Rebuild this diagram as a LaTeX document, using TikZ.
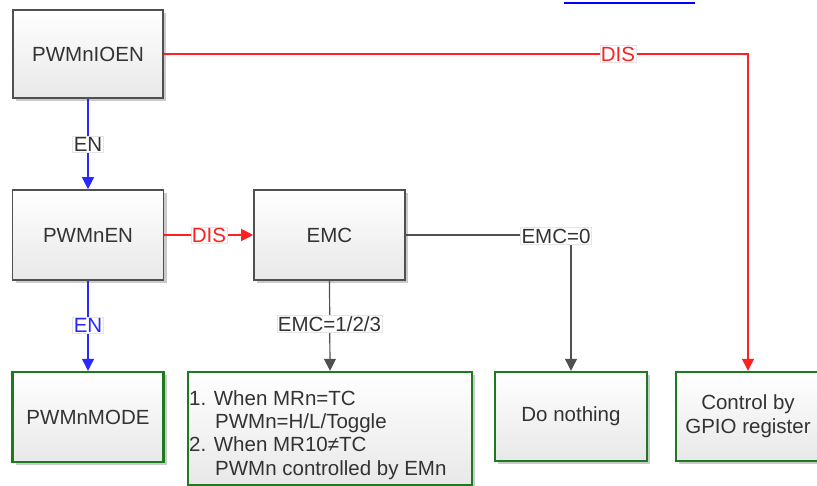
\documentclass[tikz,border=0pt]{standalone}
\usepackage{fontspec}
\setmainfont{Liberation Sans}
\usetikzlibrary{arrows.meta,shadows}
\definecolor{txt}{HTML}{333333}
\definecolor{bord}{HTML}{505050}
\definecolor{grn}{HTML}{1E7A1E}
\definecolor{myred}{HTML}{FF2020}
\definecolor{myblue}{HTML}{2828FF}
\definecolor{lnk}{HTML}{505050}
\begin{document}
\begin{tikzpicture}[x=1pt,y=-1pt,
  box/.style={draw=bord, line width=1.6pt, minimum width=151pt, minimum height=89pt,
    top color=white, bottom color=black!9,
    drop shadow={shadow xshift=3pt, shadow yshift=-3pt, opacity=0.35, fill=black!60},
    font=\fontsize{20.5}{24}\selectfont, text=txt, align=center, inner sep=0pt},
  gbox/.style={box, draw=grn, line width=2.4pt},
  lab/.style={fill=white, draw=black!10, line width=0.6pt, inner sep=1pt, text=txt,
    font=\fontsize{20.5}{24}\selectfont},
  tip/.style={-{Triangle[length=12pt,width=12pt]}},
  conn/.style={line width=1.2pt, tip}
]
\useasboundingbox (0,0) rectangle (817,486);
\draw[blue, line width=2pt] (564,3) -- (695,3);

\node[box, minimum width=150pt, minimum height=88pt] (ioen) at (88,54) {PWMnIOEN};
\node[box, minimum height=90pt] (en) at (88,235) {PWMnEN};
\node[box, minimum height=90pt] (emc) at (329.5,235) {EMC};
\node[gbox, minimum height=90pt] (mode) at (88,417) {PWMnMODE};
\node[gbox, minimum width=284pt, minimum height=113pt] (b4) at (330,428.5) {};
\node[anchor=north west, align=left, text=txt, inner sep=0pt,
  font=\fontsize{20.5}{23.4}\selectfont] (b4t) at (189,390)
  {1. When MRn=TC\\\hspace*{26pt}PWMn=H/L/Toggle\\2. When MR10≠TC\\\hspace*{26pt}PWMn controlled by EMn};
\node[gbox, minimum width=152pt] (dn) at (571,416.5) {Do nothing};
\node[gbox, minimum width=144pt] (gpio) at (748,416.5) {Control by\\GPIO register};

\draw[myred, conn] (ioen.east) -| (gpio.north);
\node[lab, text=myred] (l1) at (618,54) {DIS};
\draw[myblue, conn] (ioen.south) -- (en.north);
\node[lab] (l2) at (88,144) {EN};
\draw[myred, conn] (en.east) -- (emc.west);
\node[lab, text=myred] (l3) at (209,235.5) {DIS};
\draw[myblue, conn] (en.south) -- (mode.north);
\node[lab, text=myblue] (l4) at (88,325) {EN};
\draw[lnk, conn] (emc.east) -| (dn.north);
\node[lab] (l5) at (556,236) {EMC=0};
\draw[lnk, conn] (emc.south) -- (b4.north);
\node[lab] (l6) at (329.5,324) {EMC=1/2/3};
\end{tikzpicture}
\end{document}
